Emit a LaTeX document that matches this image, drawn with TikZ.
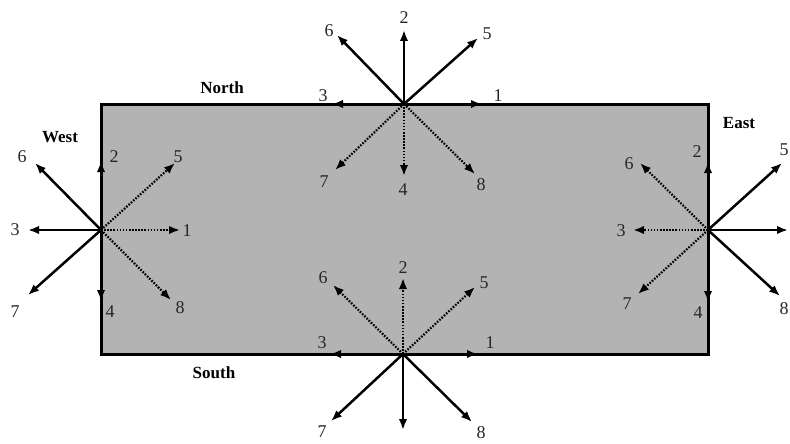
\documentclass[tikz,border=0pt]{standalone}
\usepackage{fontspec}
\setmainfont{Liberation Serif}
\usetikzlibrary{arrows.meta}
\definecolor{cPanel}{HTML}{B3B3B3}
\definecolor{cDigit}{HTML}{262626}

\tikzset{
  solarr/.style={line width=2.5pt, -{Latex[length=11pt,width=8.5pt]}},
  dotarr/.style={line width=2.2pt, dash pattern=on 1.6pt off 1.5pt, -{Latex[length=11pt,width=8.5pt]}},
  digit/.style={font=\fontsize{18}{18}\selectfont, text=cDigit, inner sep=0pt},
  sidename/.style={font=\bfseries\fontsize{17}{17}\selectfont, inner sep=0pt}
}

\begin{document}
\begin{tikzpicture}[x=1pt, y=-1pt]
    \useasboundingbox (0,0) rectangle (790,444);

    % --- panel ---------------------------------------------------------
    \draw[fill=cPanel, line width=3pt] (101,104) rectangle (708,354);
    \coordinate (W) at (101,230);
    \coordinate (N) at (404,104);
    \coordinate (S) at (403,354);
    \coordinate (E) at (708,230);

    \node[sidename] (west)  at (60,137)  {West};
    \node[sidename] (north) at (222,88)  {North};
    \node[sidename] (south) at (214,373) {South};
    \node[sidename] (east)  at (739,123) {East};

    % --- west point ------------------------------------------------------
    \foreach \k/\st/\ex/\ey/\lx/\ly in {%
        1/dotarr/180/230/187/231,
        2/solarr/101/161/114/157,
        3/solarr/28/230/15/230,
        4/solarr/101/301/110/312,
        5/dotarr/175/163/178/157,
        6/solarr/35/163/22/157,
        7/solarr/28/295/15/312,
        8/dotarr/171/300/180/308}
    {
      \coordinate (w\k) at (\ex,\ey);
      \draw[\st] (W) -- (w\k);
      \node[digit] (lw\k) at (\lx,\ly) {\k};
    }

    % --- north point -----------------------------------------------------
    \foreach \k/\st/\ex/\ey/\lx/\ly in {%
        1/solarr/482/104/498/96,
        2/solarr/404/30/404/18,
        3/solarr/332/104/323/96,
        4/dotarr/404/176/403/190,
        5/solarr/478/38/487/34,
        6/solarr/337/35/329/31,
        7/dotarr/335/170/324/182,
        8/dotarr/475/174/481/185}
    {
      \coordinate (n\k) at (\ex,\ey);
      \draw[\st] (N) -- (n\k);
      \node[digit] (ln\k) at (\lx,\ly) {\k};
    }

    % --- south point -----------------------------------------------------
    \foreach \k/\st/\ex/\ey/\lx/\ly in {%
        1/solarr/478/354/490/343,
        2/dotarr/403/278/403/268,
        3/solarr/330/354/322/343,
        5/dotarr/475/287/484/283,
        6/dotarr/333/285/323/278,
        7/solarr/331/421/322/432,
        8/solarr/472/422/481/433}
    {
      \coordinate (s\k) at (\ex,\ey);
      \draw[\st] (S) -- (s\k);
      \node[digit] (ls\k) at (\lx,\ly) {\k};
    }
    \coordinate (s4) at (403,430);
    \draw[solarr] (S) -- (s4);

    % --- east point ------------------------------------------------------
    \foreach \k/\st/\ex/\ey/\lx/\ly in {%
        2/solarr/708/162/697/152,
        3/dotarr/633/230/621/231,
        4/solarr/708/302/698/313,
        5/solarr/782/163/784/150,
        6/dotarr/640/163/629/164,
        7/dotarr/638/294/627/304,
        8/solarr/780/296/784/309}
    {
      \coordinate (e\k) at (\ex,\ey);
      \draw[\st] (E) -- (e\k);
      \node[digit] (le\k) at (\lx,\ly) {\k};
    }
    \coordinate (e1) at (788,230);
    \draw[solarr] (E) -- (e1);
\end{tikzpicture}
\end{document}
